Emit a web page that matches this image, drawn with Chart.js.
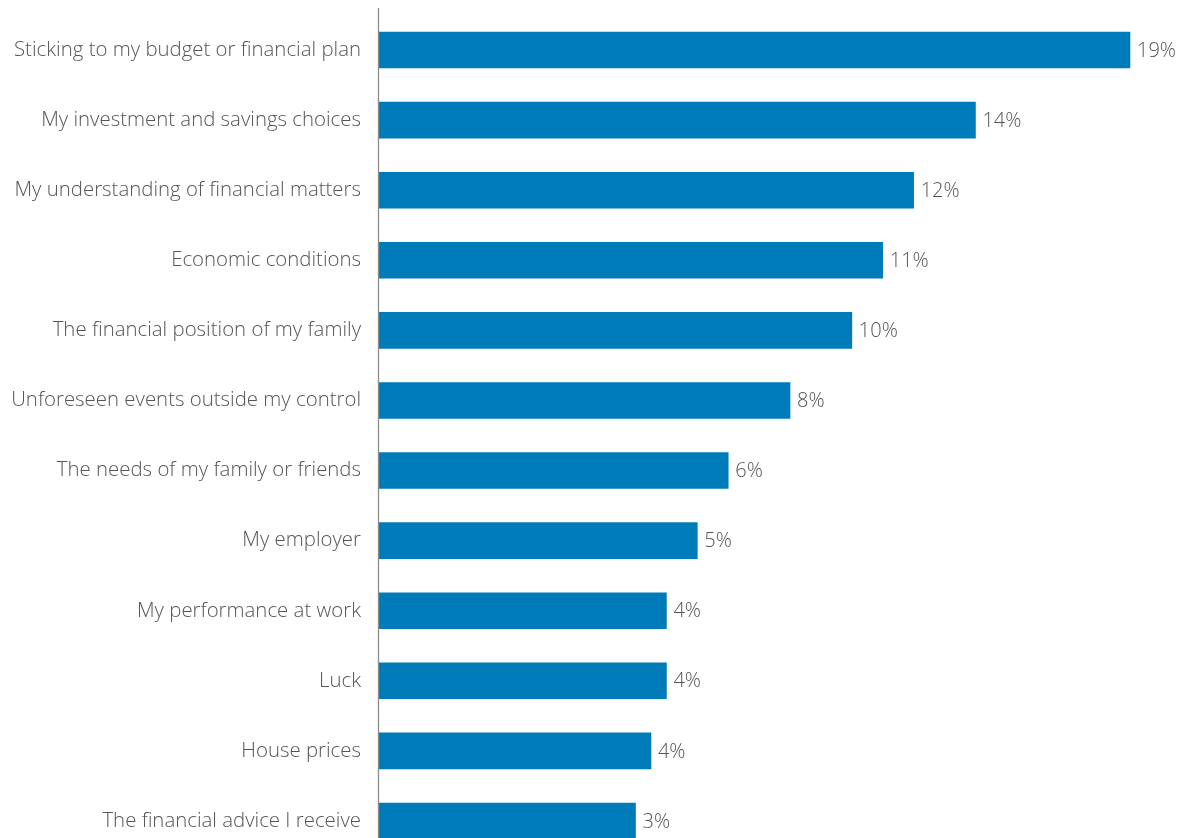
<!DOCTYPE html>
<html>
<head>
<meta charset="utf-8">
<script src="https://cdn.jsdelivr.net/npm/chart.js@4.4.1/dist/chart.umd.min.js"></script>
<style>
  html, body { margin: 0; padding: 0; background: #fff; overflow: hidden; }
  canvas { display: block; }
</style>
</head>
<body>
<canvas id="grafico" width="1188" height="860"></canvas>
<script>
// categorias e valores (%)
const categorias = [
    'Sticking to my budget or financial plan',
    'My investment and savings choices',
    'My understanding of financial matters',
    'Economic conditions',
    'The financial position of my family',
    'Unforeseen events outside my control',
    'The needs of my family or friends',
    'My employer',
    'My performance at work',
    'Luck',
    'House prices',
    'The financial advice I receive'
];
const valores = [19, 14, 12, 11, 10, 8, 6, 5, 4, 4, 3.5, 3];

// eixo x nao comeca em zero
const xMin = -5.3;
const xMax = 19.26;

const azul = '#007bba';
const cinzaTexto = '#555555';
const fonte = "'Open Sans', 'DejaVu Sans', sans-serif";

// rotulos de valor no fim de cada barra
const rotulosValor = {
    id: 'rotulosValor',
    afterDatasetsDraw(chart) {
        const ctx = chart.ctx;
        const meta = chart.getDatasetMeta(0);
        ctx.save();
        ctx.font = '300 20px ' + fonte;
        ctx.fillStyle = cinzaTexto;
        ctx.textAlign = 'left';
        ctx.textBaseline = 'middle';
        meta.data.forEach((bar, i) => {
            ctx.fillText(Math.round(valores[i]) + '%', bar.x + 7, bar.y + 1);
        });
        ctx.restore();
    }
};

// linha do eixo vertical, um pouco acima da area do grafico
const linhaEixo = {
    id: 'linhaEixo',
    afterDraw(chart) {
        const ctx = chart.ctx;
        const a = chart.chartArea;
        ctx.save();
        ctx.strokeStyle = '#8c8c8c';
        ctx.lineWidth = 1.3;
        ctx.beginPath();
        ctx.moveTo(a.left - 0.5, 8);
        ctx.lineTo(a.left - 0.5, a.bottom);
        ctx.stroke();
        ctx.restore();
    }
};

new Chart(document.getElementById('grafico'), {
    type: 'bar',
    data: {
        labels: categorias,
        datasets: [{
            data: valores,
            base: xMin,
            backgroundColor: azul,
            borderWidth: 0,
            barThickness: 36
        }]
    },
    options: {
        indexAxis: 'y',
        responsive: false,
        animation: false,
        layout: {
            padding: { top: 15, bottom: 4, left: 0, right: 50 }
        },
        plugins: {
            legend: { display: false },
            tooltip: { enabled: false }
        },
        scales: {
            x: {
                display: false,
                min: xMin,
                max: xMax
            },
            y: {
                grid: { display: false, drawTicks: false },
                border: { display: false },
                ticks: {
                    color: cinzaTexto,
                    padding: 18,
                    font: { family: fonte, size: 20.4, weight: 300 }
                },
                afterFit(scale) {
                    scale.width = 379;
                    // sem folga extra em cima/embaixo
                    scale.paddingTop = 0;
                    scale.paddingBottom = 0;
                }
            }
        }
    },
    plugins: [rotulosValor, linhaEixo]
});
</script>
</body>
</html>
